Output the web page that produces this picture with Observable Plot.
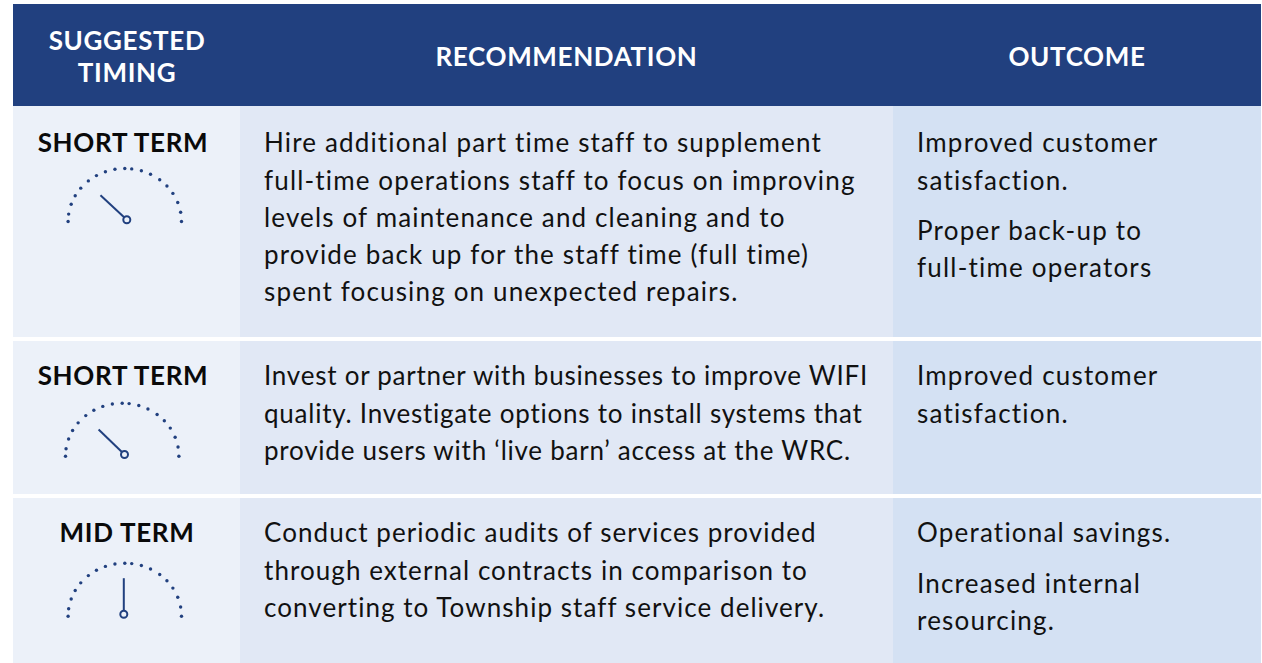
<!DOCTYPE html>
<html>
<head>
<meta charset="utf-8">
<script src="https://cdn.jsdelivr.net/npm/d3@7"></script>
<script src="https://cdn.jsdelivr.net/npm/@observablehq/plot@0.6"></script>
<style>
html,body{margin:0;padding:0;background:#fff;}
.hdr text{letter-spacing:0.65px;}
.lab text{letter-spacing:0.7px;}
.r0 text{letter-spacing:1.15px;}
.r1 text{letter-spacing:0.76px;}
.r2 text{letter-spacing:1.06px;}
.o text{letter-spacing:1.2px;}
</style>
</head>
<body>
<div id="chart"></div>
<script>
// ---- data ----
const headers = [["SUGGESTED","TIMING"],["RECOMMENDATION"],["OUTCOME"]];
const timing = ["SHORT TERM","SHORT TERM","MID TERM"];
const recommendations = [
  ["Hire additional part time staff to supplement","full-time operations staff to focus on improving","levels of maintenance and cleaning and to","provide back up for the staff time (full time)","spent focusing on unexpected repairs."],
  ["Invest or partner with businesses to improve WIFI","quality. Investigate options to install systems that","provide users with ‘live barn’ access at the WRC."],
  ["Conduct periodic audits of services provided","through external contracts in comparison to","converting to Township staff service delivery."]
];
const outcomes = [
  [["Improved customer","satisfaction."],["Proper back-up to","full-time operators"]],
  [["Improved customer","satisfaction."]],
  [["Operational savings."],["Increased internal","resourcing."]]
];
const needleDegrees = [137, 136, 90];
const gaugeTickDegrees = [180,172,161,151,141,130,120,110,100,90,83,73,63,52,42,32,21,10,0];

// ---- layout ----
const W = 1262, H = 663;
const colEdges = [13, 240, 893, 1261];
const rowEdges = [[106,337],[341,494],[498,663]];
const headEdge = [4,106];
const colFill = ["#ecf1f9","#e1e8f5","#d4e1f3"];
const firstLineY = [143.5, 376.5, 533.5];
const lineStep = 37.2, paraGap = 13;
const bodyX = [263.5, 916.5];
const labelX = [122.5, 122.5, 126.5];
const gaugeC = [[124.3,221],[121.7,455.7],[124.3,615.7]];
const hub = [[126.3,219.3],[124,454],[123.3,613.7]];
const needleLen = 36, rx = 56.7, ry = 53;
const rad = d => d * Math.PI / 180;

const cells = [];
colFill.forEach((fill, c) => rowEdges.forEach(([y1,y2]) => cells.push({x1:colEdges[c],x2:colEdges[c+1],y1,y2,fill})));

const headText = [];
const headCx = [126.5, 566, 1076.5], headY = [[41,73],[57],[57]];
headers.forEach((ls,c) => ls.forEach((t,i) => headText.push({t,x:headCx[c],y:headY[c][i]})));

const labels = timing.map((t,i) => ({t,x:labelX[i],y:firstLineY[i]}));

const recLines = recommendations.map((ls,r) => ls.map((t,i) => ({t,x:bodyX[0],y:firstLineY[r]+i*lineStep})));
const outLines = [];
outcomes.forEach((paras,r) => {
  let y = firstLineY[r];
  paras.forEach(ls => { ls.forEach(t => { outLines.push({t,x:bodyX[1],y}); y += lineStep; }); y += paraGap; });
});

const ticks = [];
gaugeC.forEach(([cx,cy]) => gaugeTickDegrees.forEach(d => ticks.push({x:cx+rx*Math.cos(rad(d)),y:cy-ry*Math.sin(rad(d))})));
const needles = needleDegrees.map((d,i) => ({x1:hub[i][0],y1:hub[i][1],x2:hub[i][0]+needleLen*Math.cos(rad(d)),y2:hub[i][1]-needleLen*Math.sin(rad(d))}));
const hubs = hub.map(([x,y]) => ({x,y}));

const navy = "#21407f", font = "Lato";
const bodyOpts = {x:"x",y:"y",text:"t",fill:"#111",fontSize:26,textAnchor:"start"};
const chart = Plot.plot({
  width: W, height: H, margin: 0,
  x: {domain:[0,W], range:[0,W], axis:null},
  y: {domain:[0,H], range:[0,H], axis:null},
  style: {fontFamily: font, background:"#fff"},
  marks: [
    Plot.rect([{}], {x1:()=>colEdges[0],x2:()=>colEdges[3],y1:()=>headEdge[0],y2:()=>headEdge[1],fill:navy}),
    Plot.rect(cells, {x1:"x1",x2:"x2",y1:"y1",y2:"y2",fill:"fill"}),
    Plot.text(headText, {x:"x",y:"y",text:"t",fill:"#fff",fontSize:26,fontWeight:700,textAnchor:"middle",className:"hdr"}),
    Plot.text(labels, {x:"x",y:"y",text:"t",fill:"#0a0a0a",fontSize:26,fontWeight:700,textAnchor:"middle",className:"lab"}),
    ...recLines.map((lines,r) => Plot.text(lines, {...bodyOpts, className:"r"+r})),
    Plot.text(outLines, {...bodyOpts, className:"o"}),
    Plot.dot(ticks, {x:"x",y:"y",r:1.7,fill:navy}),
    Plot.link(needles, {x1:"x1",y1:"y1",x2:"x2",y2:"y2",stroke:navy,strokeWidth:2}),
    Plot.dot(hubs, {x:"x",y:"y",r:3.5,fill:"#ecf1f9",stroke:navy,strokeWidth:2})
  ]
});
document.getElementById("chart").appendChild(chart);
</script>
</body>
</html>
